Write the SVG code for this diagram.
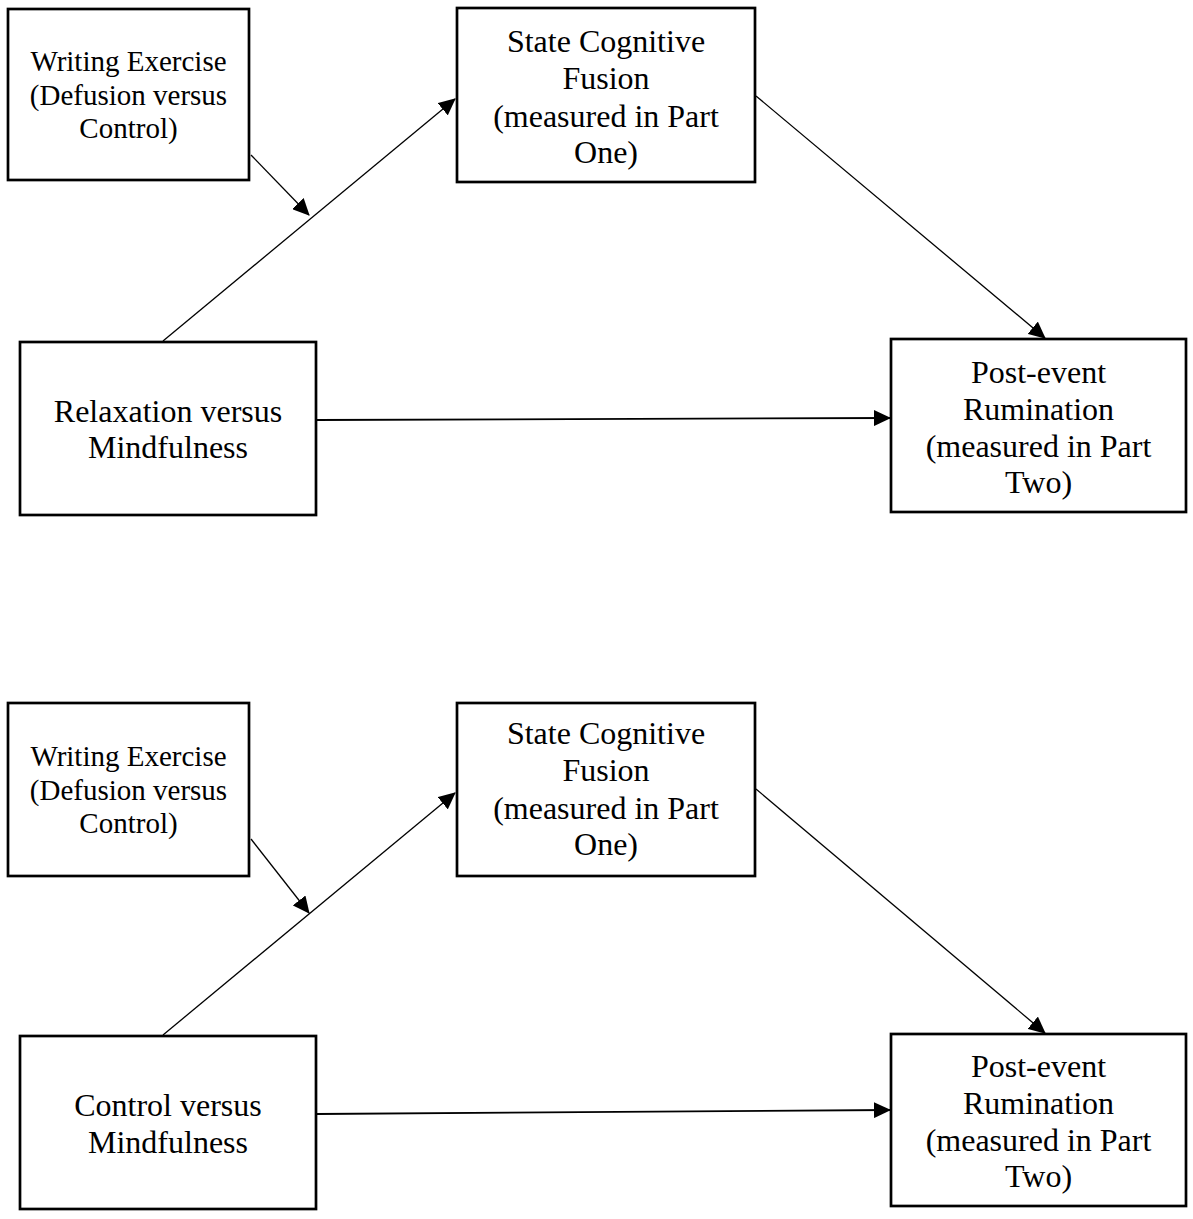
<svg xmlns="http://www.w3.org/2000/svg" width="1193" height="1219" viewBox="0 0 1193 1219">
<style>
.box{fill:#fff;stroke:#000;stroke-width:2.7}
.t{font-family:"Liberation Serif","Times New Roman",serif;font-size:32px;text-anchor:middle;fill:#000}
.ts{font-family:"Liberation Serif","Times New Roman",serif;font-size:29px;text-anchor:middle;fill:#000}
.c{stroke:#000;stroke-width:1.3;fill:none;marker-end:url(#ah)}
.ch{stroke:#000;stroke-width:1.8;fill:none;marker-end:url(#ah)}
</style>
<defs>
<marker id="ah" markerUnits="userSpaceOnUse" markerWidth="17" markerHeight="16" refX="16" refY="8" orient="auto" viewBox="0 0 17 16">
<path d="M0,0 L17,8 L0,16 z" fill="#000"/>
</marker>
</defs>
<rect width="1193" height="1219" fill="#fff"/>

<g id="connectors">
<path class="c" d="M163,341 L455,99"/>
<path class="c" d="M251,155 L309,215"/>
<path class="c" d="M756,96 L1045,338"/>
<path class="ch" d="M317,420 L890,418"/>
<path class="c" d="M163,1035 L455,793"/>
<path class="c" d="M251,839 L309,913"/>
<path class="c" d="M756,789 L1045,1033"/>
<path class="ch" d="M317,1114 L890,1110"/>
</g>

<g id="writing1">
<rect class="box" x="8" y="9" width="241" height="171"/>
<text class="ts" x="128.5" y="71">Writing Exercise</text>
<text class="ts" x="128.5" y="104.5">(Defusion versus</text>
<text class="ts" x="128.5" y="138">Control)</text>
</g>
<g id="fusion1">
<rect class="box" x="457" y="8" width="298" height="174"/>
<text class="t" x="606" y="52">State Cognitive</text>
<text class="t" x="606" y="89">Fusion</text>
<text class="t" x="606" y="126.5">(measured in Part</text>
<text class="t" x="606" y="162.5">One)</text>
</g>
<g id="relax1">
<rect class="box" x="20" y="342" width="296" height="173"/>
<text class="t" x="168" y="422">Relaxation versus</text>
<text class="t" x="168" y="458">Mindfulness</text>
</g>
<g id="rumination1">
<rect class="box" x="891" y="339" width="295" height="173"/>
<text class="t" x="1038.5" y="382.5">Post-event</text>
<text class="t" x="1038.5" y="419.5">Rumination</text>
<text class="t" x="1038.5" y="456.5">(measured in Part</text>
<text class="t" x="1038.5" y="492.5">Two)</text>
</g>

<g id="writing2">
<rect class="box" x="8" y="703" width="241" height="173"/>
<text class="ts" x="128.5" y="766">Writing Exercise</text>
<text class="ts" x="128.5" y="799.5">(Defusion versus</text>
<text class="ts" x="128.5" y="833">Control)</text>
</g>
<g id="fusion2">
<rect class="box" x="457" y="703" width="298" height="173"/>
<text class="t" x="606" y="744">State Cognitive</text>
<text class="t" x="606" y="781">Fusion</text>
<text class="t" x="606" y="818.5">(measured in Part</text>
<text class="t" x="606" y="854.5">One)</text>
</g>
<g id="control2">
<rect class="box" x="20" y="1036" width="296" height="173"/>
<text class="t" x="168" y="1116">Control versus</text>
<text class="t" x="168" y="1152.5">Mindfulness</text>
</g>
<g id="rumination2">
<rect class="box" x="891" y="1034" width="295" height="172"/>
<text class="t" x="1038.5" y="1076.5">Post-event</text>
<text class="t" x="1038.5" y="1113.5">Rumination</text>
<text class="t" x="1038.5" y="1150.5">(measured in Part</text>
<text class="t" x="1038.5" y="1186.5">Two)</text>
</g>
</svg>
